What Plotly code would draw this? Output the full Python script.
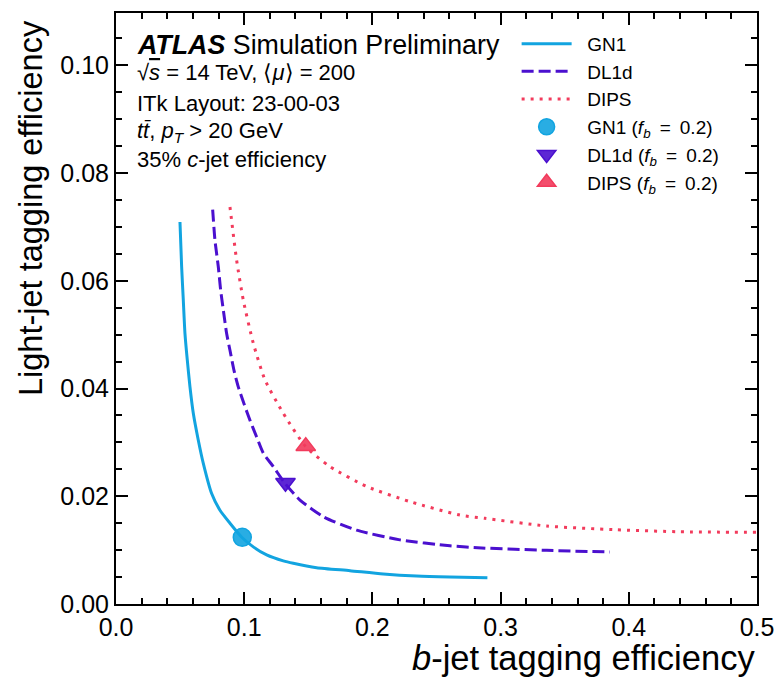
import plotly.graph_objects as go

# ---- data ----
gn1_x = [0.0499, 0.0512, 0.0525, 0.0538, 0.0556, 0.0577, 0.0603, 0.0642, 0.0681, 0.0746,
         0.0811, 0.0889, 0.0985, 0.1071, 0.1175, 0.1305, 0.1383, 0.1565, 0.1825, 0.2085,
         0.2345, 0.2605, 0.2897]
gn1_y = [0.0709, 0.0626, 0.0564, 0.0502, 0.0453, 0.0403, 0.0354, 0.0304, 0.0261, 0.0205,
         0.0174, 0.0150, 0.0123, 0.0106, 0.0091, 0.0080, 0.00755, 0.00674, 0.00618, 0.00557,
         0.00519, 0.00501, 0.00489]

dl1d_x = [0.0754, 0.0772, 0.0798, 0.0816, 0.0837, 0.0863, 0.0889, 0.0920, 0.0954, 0.0998,
          0.1045, 0.1097, 0.1149, 0.1227, 0.1318, 0.1435, 0.1617, 0.1877, 0.2215, 0.2605,
          0.2852, 0.3360, 0.3853]
dl1d_y = [0.0732, 0.0675, 0.0626, 0.0583, 0.0546, 0.0502, 0.0471, 0.0434, 0.0403, 0.0372,
          0.0341, 0.0310, 0.0280, 0.0255, 0.0224, 0.0193, 0.0162, 0.0137, 0.0119, 0.0108,
          0.0104, 0.00996, 0.00965]

dips_x = [0.0889, 0.0941, 0.0993, 0.1071, 0.1162, 0.1305, 0.1480, 0.1669, 0.1956, 0.2293,
          0.2683, 0.2878, 0.3360, 0.3880, 0.4400, 0.5000]
dips_y = [0.0737, 0.0638, 0.0564, 0.0484, 0.0416, 0.0354, 0.0292, 0.0255, 0.0218, 0.0190,
          0.0165, 0.0159, 0.01447, 0.0138, 0.01341, 0.0133]

wp_x = [0.0985, 0.1322, 0.1480]
wp_y = [0.01237, 0.0225, 0.0293]

names = ["GN1", "DL1d", "DIPS"]
colors = ["#12a4e0", "#4b10cf", "#f23b5c"]
fills = ["rgba(18,164,224,0.9)", "rgba(75,16,207,0.9)", "rgba(242,59,92,0.9)"]
dashes = ["solid", "12px,5px", "3px,6px"]
symbols = ["circle", "triangle-down", "triangle-up"]
msizes = [18, 17, 17]

x_range = [0.0, 0.5]
y_range = [0.0, 0.1097]

FONT = "Liberation Sans, Arial, Helvetica, sans-serif"
NB = "\u00a0"
TH = "\u2009"
PAD = NB * 2

fig = go.Figure()
curves = [(gn1_x, gn1_y), (dl1d_x, dl1d_y), (dips_x, dips_y)]
for i, (xs, ys) in enumerate(curves):
    fig.add_trace(go.Scatter(x=xs, y=ys, mode="lines", name=PAD + names[i],
                             line=dict(color=colors[i], width=3, dash=dashes[i],
                                       shape="spline", smoothing=0.6)))
for i in range(3):
    fig.add_trace(go.Scatter(x=[wp_x[i]], y=[wp_y[i]], mode="markers",
                             name=f"{PAD}{names[i]} (<i>f</i><sub><i>b</i></sub>{NB}{TH}={NB}{TH}0.2)",
                             marker=dict(symbol=symbols[i], size=msizes[i], color=fills[i],
                                         line=dict(color=colors[i], width=1.5))))

axis_common = dict(showline=True, linecolor="black", linewidth=2, mirror=False,
                   ticks="inside", ticklen=12, tickwidth=1.5, tickcolor="black",
                   showgrid=False, zeroline=False, automargin=False)

fig.update_layout(
    width=777, height=680,
    margin=dict(l=116, r=20, t=13, b=76),
    paper_bgcolor="white", plot_bgcolor="white",
    font=dict(family=FONT, color="black"),
    showlegend=True,
    legend=dict(x=0.625, y=0.98, xanchor="left", yanchor="top", itemwidth=50,
                bgcolor="rgba(0,0,0,0)", font=dict(size=19, family=FONT),
                tracegroupgap=0),
    xaxis=dict(range=x_range, dtick=0.1, tick0=0, tickformat=".1f",
               tickfont=dict(size=25, family=FONT),
               minor=dict(dtick=0.02, ticks="inside", ticklen=6, tickwidth=1.5, tickcolor="black"),
               **axis_common),
    yaxis=dict(range=y_range, dtick=0.02, tick0=0, tickformat=".2f",
               tickfont=dict(size=25, family=FONT),
               minor=dict(dtick=0.005, ticks="inside", ticklen=6, tickwidth=1.5, tickcolor="black"),
               **axis_common),
    xaxis2=dict(range=x_range, overlaying="x", side="top", dtick=0.1, tick0=0,
                showticklabels=False,
                minor=dict(dtick=0.02, ticks="inside", ticklen=6, tickwidth=1.5, tickcolor="black"),
                **axis_common),
    yaxis2=dict(range=y_range, overlaying="y", side="right", dtick=0.02, tick0=0,
                showticklabels=False,
                minor=dict(dtick=0.005, ticks="inside", ticklen=6, tickwidth=1.5, tickcolor="black"),
                **axis_common),
)

# invisible trace to activate secondary axes
fig.add_trace(go.Scatter(x=[None], y=[None], xaxis="x2", yaxis="y2", showlegend=False,
                         hoverinfo="skip"))

# axis titles
fig.add_annotation(text="<i>b</i>-jet tagging efficiency", xref="paper", yref="paper",
                   x=1.0, y=(604 - 658) / 591, xanchor="right", yanchor="middle",
                   showarrow=False, font=dict(size=34.5, family=FONT))
fig.add_annotation(text="Light-jet tagging efficiency", xref="paper", yref="paper",
                   x=(31 - 116) / 641, y=(604 - 18) / 591, xanchor="center", yanchor="top",
                   textangle=-90, showarrow=False, font=dict(size=32.5, family=FONT))

# ATLAS labels
fig.add_annotation(text="<b><i>ATLAS</i></b> Simulation Preliminary", xref="paper", yref="paper",
                   x=0.03, y=(604 - 45) / 591, xanchor="left", yanchor="middle", showarrow=False,
                   font=dict(size=26.8, family=FONT))
info = ["√<span style='text-decoration:overline'><i>s</i></span> = 14 TeV, ⟨<i>μ</i>⟩ = 200",
        "ITk Layout: 23-00-03",
        "<i>tt̄</i>, <i>p</i><sub><i>T</i></sub> > 20 GeV",
        "35% <i>c</i>-jet efficiency"]
info_y = [73, 103, 132, 160]
for t, py in zip(info, info_y):
    fig.add_annotation(text=t, xref="paper", yref="paper",
                       x=0.03, y=(604 - py) / 591, xanchor="left", yanchor="middle",
                       showarrow=False, font=dict(size=22, family=FONT))

fig.write_html("out.html")
